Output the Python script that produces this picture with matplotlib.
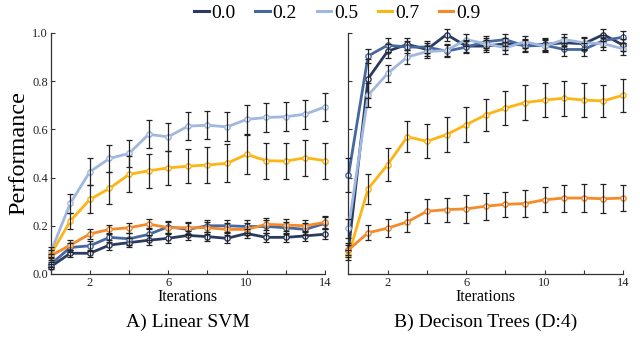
import numpy as np
import matplotlib
matplotlib.use("Agg")
import matplotlib.pyplot as plt
from matplotlib.lines import Line2D

plt.rcParams['font.family'] = ['Liberation Serif', 'DejaVu Serif']

iters = np.arange(15)
levels = ["0.0", "0.2", "0.5", "0.7", "0.9"]
colors = ["#2b3b60", "#46679f", "#a0b8e0", "#fdb515", "#f58a2a"]

# A) Linear SVM
svm_mean = {
    "0.0": [0.03, 0.086, 0.086, 0.12, 0.13, 0.14, 0.148, 0.16, 0.155, 0.148, 0.168, 0.152, 0.152, 0.158, 0.165],
    "0.2": [0.04, 0.11, 0.117, 0.152, 0.146, 0.164, 0.196, 0.185, 0.2, 0.2, 0.197, 0.197, 0.192, 0.185, 0.21],
    "0.5": [0.09, 0.293, 0.424, 0.479, 0.5, 0.579, 0.569, 0.613, 0.617, 0.61, 0.641, 0.649, 0.652, 0.663, 0.693],
    "0.7": [0.08, 0.22, 0.309, 0.355, 0.413, 0.428, 0.44, 0.447, 0.452, 0.459, 0.496, 0.47, 0.468, 0.482, 0.47],
    "0.9": [0.075, 0.12, 0.166, 0.185, 0.192, 0.207, 0.192, 0.192, 0.192, 0.185, 0.185, 0.206, 0.203, 0.2, 0.214],
}
svm_err = {
    "0.0": [0.01, 0.015, 0.015, 0.02, 0.02, 0.02, 0.02, 0.02, 0.02, 0.02, 0.02, 0.02, 0.02, 0.02, 0.02],
    "0.2": [0.01, 0.02, 0.02, 0.02, 0.025, 0.025, 0.025, 0.025, 0.025, 0.025, 0.025, 0.025, 0.025, 0.025, 0.025],
    "0.5": [0.02, 0.038, 0.055, 0.055, 0.057, 0.058, 0.057, 0.057, 0.058, 0.06, 0.059, 0.06, 0.06, 0.06, 0.059],
    "0.7": [0.02, 0.035, 0.058, 0.066, 0.075, 0.07, 0.072, 0.071, 0.076, 0.078, 0.082, 0.074, 0.075, 0.075, 0.074],
    "0.9": [0.01, 0.02, 0.02, 0.02, 0.02, 0.02, 0.025, 0.025, 0.025, 0.025, 0.025, 0.025, 0.025, 0.025, 0.025],
}

# B) Decision Trees (D:4)
dt_mean = {
    "0.0": [0.10, 0.81, 0.924, 0.952, 0.931, 0.993, 0.945, 0.945, 0.955, 0.949, 0.952, 0.959, 0.955, 0.993, 0.949],
    "0.2": [0.41, 0.904, 0.949, 0.941, 0.941, 0.924, 0.941, 0.963, 0.972, 0.945, 0.949, 0.931, 0.931, 0.968, 0.982],
    "0.5": [0.19, 0.741, 0.832, 0.90, 0.922, 0.927, 0.972, 0.955, 0.938, 0.963, 0.945, 0.972, 0.959, 0.955, 0.934],
    "0.7": [0.078, 0.353, 0.454, 0.569, 0.55, 0.578, 0.619, 0.66, 0.688, 0.711, 0.721, 0.729, 0.721, 0.718, 0.741],
    "0.9": [0.10, 0.171, 0.19, 0.216, 0.26, 0.267, 0.27, 0.281, 0.289, 0.292, 0.308, 0.315, 0.315, 0.312, 0.315],
}
dt_err = {
    "0.0": [0.03, 0.08, 0.03, 0.025, 0.025, 0.025, 0.025, 0.025, 0.025, 0.025, 0.025, 0.025, 0.025, 0.025, 0.025],
    "0.2": [0.07, 0.03, 0.03, 0.025, 0.025, 0.025, 0.025, 0.025, 0.025, 0.025, 0.025, 0.025, 0.025, 0.025, 0.025],
    "0.5": [0.04, 0.05, 0.035, 0.03, 0.025, 0.025, 0.025, 0.025, 0.025, 0.025, 0.025, 0.025, 0.025, 0.025, 0.025],
    "0.7": [0.02, 0.063, 0.067, 0.064, 0.07, 0.073, 0.072, 0.067, 0.072, 0.074, 0.072, 0.072, 0.072, 0.067, 0.069],
    "0.9": [0.02, 0.031, 0.038, 0.04, 0.05, 0.05, 0.057, 0.056, 0.053, 0.056, 0.052, 0.056, 0.059, 0.061, 0.055],
}

xtick_pos = [2, 4, 6, 8, 10, 12, 14]
xtick_lab = ["2", "", "6", "", "10", "", "14"]
ytick_pos = [0.0, 0.2, 0.4, 0.6, 0.8, 1.0]

fig = plt.figure(figsize=(6.4, 3.45), dpi=100)
ax1 = fig.add_axes([0.0792, 0.2058, 0.4286, 0.699])
ax2 = fig.add_axes([0.5445, 0.2058, 0.429, 0.699])


def draw(ax, means, errs, title, show_ylab):
    for lev, col in zip(levels, colors):
        ax.plot(iters, means[lev], color=col, lw=2.0, marker="o", ms=3.8,
                mfc="white", mec=col, mew=1.0, zorder=3, clip_on=False)
    for lev in levels:
        ax.errorbar(iters, means[lev], yerr=errs[lev], fmt="none",
                    ecolor="#222222", elinewidth=0.9, capsize=2.0,
                    capthick=0.9, zorder=4, clip_on=False)
    ax.set_xlim(0, 14)
    ax.set_ylim(0, 1)
    ax.spines["top"].set_visible(False)
    ax.spines["right"].set_visible(False)
    for s in ("left", "bottom"):
        ax.spines[s].set_linewidth(0.9)
        ax.spines[s].set_color("#333333")
    ax.set_xticks(xtick_pos)
    ax.set_xticklabels(xtick_lab)
    ax.set_yticks(ytick_pos)
    if show_ylab:
        ax.set_yticklabels(["%.1f" % v for v in ytick_pos])
        ax.set_ylabel("Performance", fontsize=17.5, labelpad=2)
    else:
        ax.set_yticklabels([])
    ax.tick_params(direction="in", length=3, width=0.8, labelsize=9, pad=2,
                   colors="#333333", labelcolor="#222222")
    ax.set_xlabel("Iterations", fontsize=11.5, labelpad=0)
    ax.text(0.5, -0.2, title, transform=ax.transAxes, ha="center",
            va="center", fontsize=14)


draw(ax1, svm_mean, svm_err, "A) Linear SVM", True)
draw(ax2, dt_mean, dt_err, "B) Decison Trees (D:4)", False)

handles = [Line2D([0], [0], color=c, lw=2.2) for c in colors]
fig.legend(handles, levels, loc="center", bbox_to_anchor=(0.527, 0.962),
           ncol=5, frameon=False, fontsize=14, handlelength=0.75,
           handletextpad=0.15, columnspacing=1.0)

fig.savefig("out.png", dpi=100)
